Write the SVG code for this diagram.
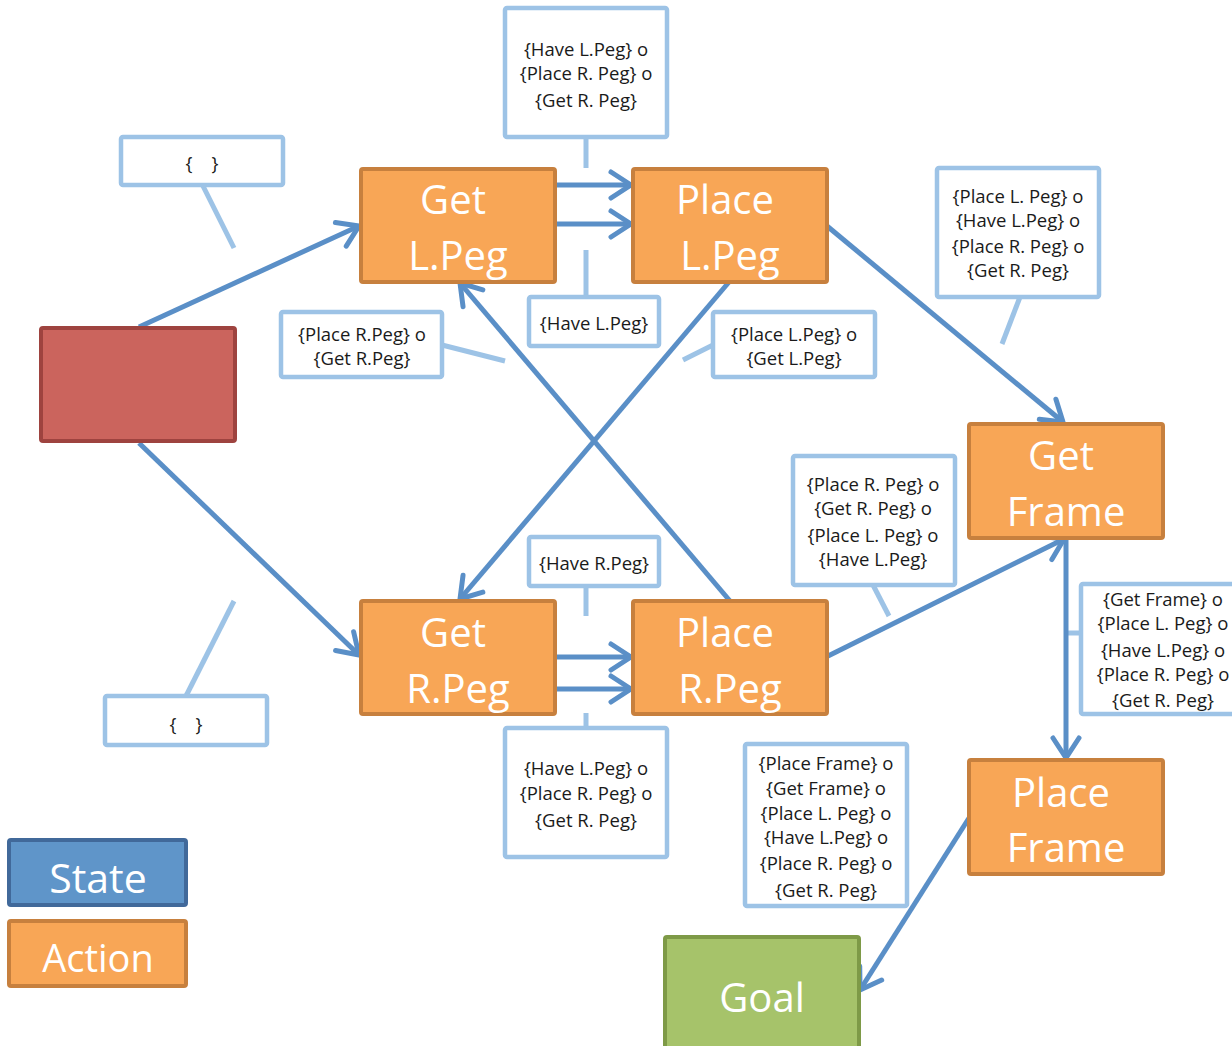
<svg xmlns="http://www.w3.org/2000/svg" width="1232" height="1046" viewBox="0 0 1232 1046">
  <style>
    .action rect { fill: #F8A656; stroke: #C7803E; stroke-width: 4; }
    .big { font-family: "Open Sans", "Noto Sans", sans-serif; font-size: 40px; fill: #FFFFFF; text-anchor: middle; }
    .edge { stroke: #5A8FC7; stroke-width: 5; fill: none; marker-end: url(#chev); }
    .note rect { fill: #FFFFFF; stroke: #9DC3E6; stroke-width: 4.5; }
    .tail { stroke: #9DC3E6; stroke-width: 5; fill: none; }
    .small { font-family: "Open Sans", "Noto Sans", sans-serif; font-size: 18.5px; fill: #1A1A1A; text-anchor: middle; }
  </style>
  <defs>
    <marker id="chev" markerUnits="userSpaceOnUse" markerWidth="34" markerHeight="34" viewBox="0 0 34 34" refX="29" refY="17" orient="auto">
      <path d="M9,4 L29,17 L9,30" fill="none" stroke="#5A8FC7" stroke-width="5" stroke-linecap="round" stroke-linejoin="round"/>
    </marker>
  </defs>
  <rect width="1232" height="1046" fill="#FFFFFF"/>

  <!-- callout tails -->
  <g id="callout-tails">
    <line class="tail" x1="586" y1="137" x2="586" y2="168"/>
    <line class="tail" x1="203" y1="186" x2="234" y2="248"/>
    <line class="tail" x1="586" y1="297" x2="586" y2="250"/>
    <line class="tail" x1="442" y1="345" x2="505" y2="361"/>
    <line class="tail" x1="713" y1="345" x2="683" y2="360"/>
    <line class="tail" x1="1020" y1="297" x2="1002" y2="344"/>
    <line class="tail" x1="873" y1="585" x2="889" y2="616"/>
    <line class="tail" x1="1081" y1="633" x2="1068" y2="633"/>
    <line class="tail" x1="586" y1="586" x2="586" y2="616"/>
    <line class="tail" x1="586" y1="728" x2="586" y2="713"/>
    <line class="tail" x1="186" y1="696" x2="234" y2="601"/>
  </g>

  <!-- connectors -->
  <g id="connectors">
    <line class="edge" x1="139" y1="327" x2="359" y2="226"/>
    <line class="edge" x1="139" y1="443" x2="359" y2="655"/>
    <line class="edge" x1="555" y1="185" x2="631" y2="185"/>
    <line class="edge" x1="555" y1="224" x2="631" y2="224"/>
    <line class="edge" x1="827" y1="226" x2="1063" y2="422"/>
    <line class="edge" x1="729" y1="282" x2="460" y2="599"/>
    <line class="edge" x1="730" y1="601" x2="460" y2="283"/>
    <line class="edge" x1="555" y1="657" x2="631" y2="657"/>
    <line class="edge" x1="555" y1="689" x2="631" y2="689"/>
    <line class="edge" x1="828" y1="656" x2="1064" y2="539"/>
    <line class="edge" x1="1066" y1="539" x2="1066" y2="758"/>
    <line class="edge" x1="969" y1="818" x2="860" y2="990"/>
  </g>

  <!-- start state -->
  <g id="start">
    <rect x="41" y="328" width="194" height="113" rx="2" fill="#CB645D" stroke="#9E433F" stroke-width="4"/>
  </g>

  <!-- actions -->
  <g id="get-lpeg" class="action">
    <rect x="361" y="169" width="194" height="113" rx="2"/>
    <text class="big" x="453" y="214">Get</text>
    <text class="big" x="458" y="270">L.Peg</text>
  </g>
  <g id="place-lpeg" class="action">
    <rect x="633" y="169" width="194" height="113" rx="2"/>
    <text class="big" x="725" y="214">Place</text>
    <text class="big" x="730" y="270">L.Peg</text>
  </g>
  <g id="get-rpeg" class="action">
    <rect x="361" y="601" width="194" height="113" rx="2"/>
    <text class="big" x="453" y="647">Get</text>
    <text class="big" x="458" y="703">R.Peg</text>
  </g>
  <g id="place-rpeg" class="action">
    <rect x="633" y="601" width="194" height="113" rx="2"/>
    <text class="big" x="725" y="647">Place</text>
    <text class="big" x="730" y="703">R.Peg</text>
  </g>
  <g id="get-frame" class="action">
    <rect x="969" y="424" width="194" height="114" rx="2"/>
    <text class="big" x="1061" y="470">Get</text>
    <text class="big" x="1066" y="526">Frame</text>
  </g>
  <g id="place-frame" class="action">
    <rect x="969" y="760" width="194" height="114" rx="2"/>
    <text class="big" x="1061" y="807">Place</text>
    <text class="big" x="1066" y="862">Frame</text>
  </g>

  <!-- goal -->
  <g id="goal">
    <rect x="665" y="937" width="194" height="120" rx="2" fill="#A6C36A" stroke="#7E9A47" stroke-width="4"/>
    <text class="big" x="762" y="1012">Goal</text>
  </g>

  <!-- legend -->
  <g id="legend-state">
    <rect x="9" y="840" width="177" height="65" rx="2" fill="#5F95C9" stroke="#41699A" stroke-width="4"/>
    <text class="big" x="98" y="893" style="font-size:41px">State</text>
  </g>
  <g id="legend-action" class="action">
    <rect x="9" y="921" width="177" height="65" rx="2"/>
    <text class="big" x="98" y="972" style="font-size:38px">Action</text>
  </g>

  <!-- annotation boxes -->
  <g id="note-top" class="note">
    <rect x="505" y="8" width="162" height="129" rx="2"/>
    <text class="small" x="586" y="56">{Have L.Peg} o</text>
    <text class="small" x="586" y="80">{Place R. Peg} o</text>
    <text class="small" x="586" y="107">{Get R. Peg}</text>
  </g>
  <g id="note-empty-top" class="note">
    <rect x="121" y="137" width="162" height="48" rx="2"/>
    <text class="small" x="202" y="170">{&#160;&#160;&#160;&#160;}</text>
  </g>
  <g id="note-have-lpeg" class="note">
    <rect x="529" y="297" width="130" height="49" rx="2"/>
    <text class="small" x="594" y="330">{Have L.Peg}</text>
  </g>
  <g id="note-left-mid" class="note">
    <rect x="281" y="312" width="161" height="65" rx="2"/>
    <text class="small" x="362" y="341">{Place R.Peg} o</text>
    <text class="small" x="362" y="365">{Get R.Peg}</text>
  </g>
  <g id="note-right-mid" class="note">
    <rect x="713" y="312" width="162" height="65" rx="2"/>
    <text class="small" x="794" y="341">{Place L.Peg} o</text>
    <text class="small" x="794" y="365">{Get L.Peg}</text>
  </g>
  <g id="note-get-frame-in" class="note">
    <rect x="937" y="168" width="162" height="129" rx="2"/>
    <text class="small" x="1018" y="203">{Place L. Peg} o</text>
    <text class="small" x="1018" y="227">{Have L.Peg} o</text>
    <text class="small" x="1018" y="253">{Place R. Peg} o</text>
    <text class="small" x="1018" y="277">{Get R. Peg}</text>
  </g>
  <g id="note-place-rpeg-out" class="note">
    <rect x="793" y="456" width="162" height="129" rx="2"/>
    <text class="small" x="873" y="491">{Place R. Peg} o</text>
    <text class="small" x="873" y="515">{Get R. Peg} o</text>
    <text class="small" x="873" y="542">{Place L. Peg} o</text>
    <text class="small" x="873" y="566">{Have L.Peg}</text>
  </g>
  <g id="note-frame-link" class="note">
    <rect x="1081" y="584" width="162" height="130" rx="2"/>
    <text class="small" x="1163" y="606">{Get Frame} o</text>
    <text class="small" x="1163" y="630">{Place L. Peg} o</text>
    <text class="small" x="1163" y="657">{Have L.Peg} o</text>
    <text class="small" x="1163" y="681">{Place R. Peg} o</text>
    <text class="small" x="1163" y="707">{Get R. Peg}</text>
  </g>
  <g id="note-have-rpeg" class="note">
    <rect x="529" y="537" width="130" height="49" rx="2"/>
    <text class="small" x="594" y="570">{Have R.Peg}</text>
  </g>
  <g id="note-bottom" class="note">
    <rect x="505" y="728" width="162" height="129" rx="2"/>
    <text class="small" x="586" y="775">{Have L.Peg} o</text>
    <text class="small" x="586" y="800">{Place R. Peg} o</text>
    <text class="small" x="586" y="827">{Get R. Peg}</text>
  </g>
  <g id="note-empty-bottom" class="note">
    <rect x="105" y="696" width="162" height="49" rx="2"/>
    <text class="small" x="186" y="731">{&#160;&#160;&#160;&#160;}</text>
  </g>
  <g id="note-goal" class="note">
    <rect x="745" y="744" width="162" height="162" rx="2"/>
    <text class="small" x="826" y="770">{Place Frame} o</text>
    <text class="small" x="826" y="795">{Get Frame} o</text>
    <text class="small" x="826" y="820">{Place L. Peg} o</text>
    <text class="small" x="826" y="844">{Have L.Peg} o</text>
    <text class="small" x="826" y="870">{Place R. Peg} o</text>
    <text class="small" x="826" y="897">{Get R. Peg}</text>
  </g>
</svg>
